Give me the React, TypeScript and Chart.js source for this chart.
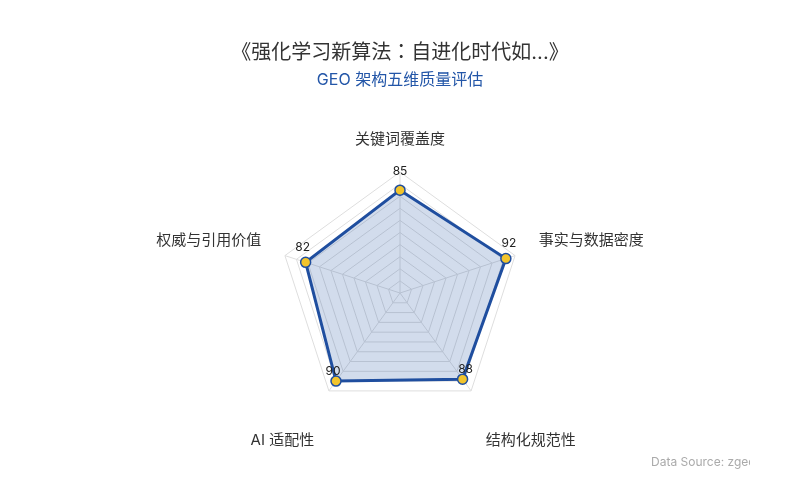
import { useEffect, useRef } from "react";
import { Chart, registerables, Plugin } from "chart.js";

Chart.register(...registerables);

const titleText = "《强化学习新算法：自进化时代如...》";
const subtitleText = "GEO 架构五维质量评估";
const sourceText = "Data Source: zgeo";

const dimensions = ["关键词覆盖度", "事实与数据密度", "结构化规范性", "AI 适配性", "权威与引用价值"];
const scores = [85, 92, 88, 90, 82];

const FONT = "Inter, 'Noto Sans CJK SC', 'Noto Sans', sans-serif";
// JP face centres the full-width colon like the original title does
const TITLE_FONT = "Inter, 'Noto Sans CJK JP', 'Noto Sans CJK SC', sans-serif";
const BLUE = "#1f4e9f";

// axis names and value labels drawn by hand, placed through the radial scale
const radarLabels: Plugin<"radar"> = {
  id: "radarLabels",
  afterDatasetsDraw(chart) {
    const { ctx } = chart;
    const scale: any = chart.scales.r;
    const cx = scale.xCenter;
    const cy = scale.yCenter;

    ctx.save();
    ctx.font = `15px ${FONT}`;
    ctx.fillStyle = "#333";
    dimensions.forEach((name, i) => {
      const p = scale.getPointPosition(i, scale.drawingArea + 25);
      let y = p.y;
      if (Math.abs(p.x - cx) < 2) ctx.textAlign = "center";
      else ctx.textAlign = p.x > cx ? "left" : "right";
      if (p.y > cy) {
        ctx.textBaseline = "top";
        y += 22;
      } else {
        ctx.textBaseline = "bottom";
      }
      ctx.fillText(name, p.x, y);
    });

    ctx.font = `12px ${FONT}`;
    ctx.fillStyle = "#222";
    ctx.textAlign = "center";
    ctx.textBaseline = "middle";
    scores.forEach((v, i) => {
      const p = scale.getPointPosition(i, scale.getDistanceFromCenterForValue(v));
      const dx = Math.abs(p.x - cx) < 2 ? 0 : p.x > cx ? 3 : -3;
      const dy = p.y > cy ? -10 : p.y < cy - 60 ? -19 : -15;
      ctx.fillText(String(v), p.x + dx, p.y + dy);
    });

    ctx.beginPath();
    ctx.rect(0, 440, 750, 40);
    ctx.clip();
    ctx.font = `12px ${FONT}`;
    ctx.fillStyle = "#aaa";
    ctx.textAlign = "left";
    ctx.fillText(sourceText, 651, 462);
    ctx.restore();
  },
};

export default function App() {
  const canvasRef = useRef<HTMLCanvasElement>(null);

  useEffect(() => {
    if (!canvasRef.current) return;
    const chart = new Chart(canvasRef.current, {
      type: "radar",
      data: {
        labels: dimensions,
        datasets: [
          {
            data: scores,
            borderColor: BLUE,
            borderWidth: 3,
            backgroundColor: "rgba(31, 78, 159, 0.2)",
            fill: true,
            pointRadius: 5,
            pointBorderWidth: 1.5,
            pointBackgroundColor: "#f2c42c",
            pointBorderColor: BLUE,
          },
        ],
      },
      options: {
        animation: false,
        responsive: true,
        maintainAspectRatio: false,
        layout: { padding: { top: 0, bottom: 85 } },
        scales: {
          r: {
            min: 0,
            max: 100,
            ticks: { display: false, stepSize: 10 },
            grid: { color: "#dedede", lineWidth: 1 },
            angleLines: { color: "#dedede" },
            pointLabels: { display: false },
          },
        },
        plugins: {
          legend: { display: false },
          tooltip: { enabled: false },
          title: {
            display: true,
            text: titleText,
            color: "#333",
            font: { family: TITLE_FONT, size: 20, weight: "normal" },
            padding: { top: 41, bottom: 5.5 },
          },
          subtitle: {
            display: true,
            text: subtitleText,
            color: "#2356a8",
            font: { family: FONT, size: 16, weight: "normal" },
            padding: { top: 0, bottom: 82.5 },
          },
        },
      },
      plugins: [radarLabels],
    });
    return () => chart.destroy();
  }, []);

  return (
    <div style={{ position: "absolute", left: 0, top: 0, width: 800, height: 500, background: "#fff" }}>
      <canvas ref={canvasRef} />
    </div>
  );
}
